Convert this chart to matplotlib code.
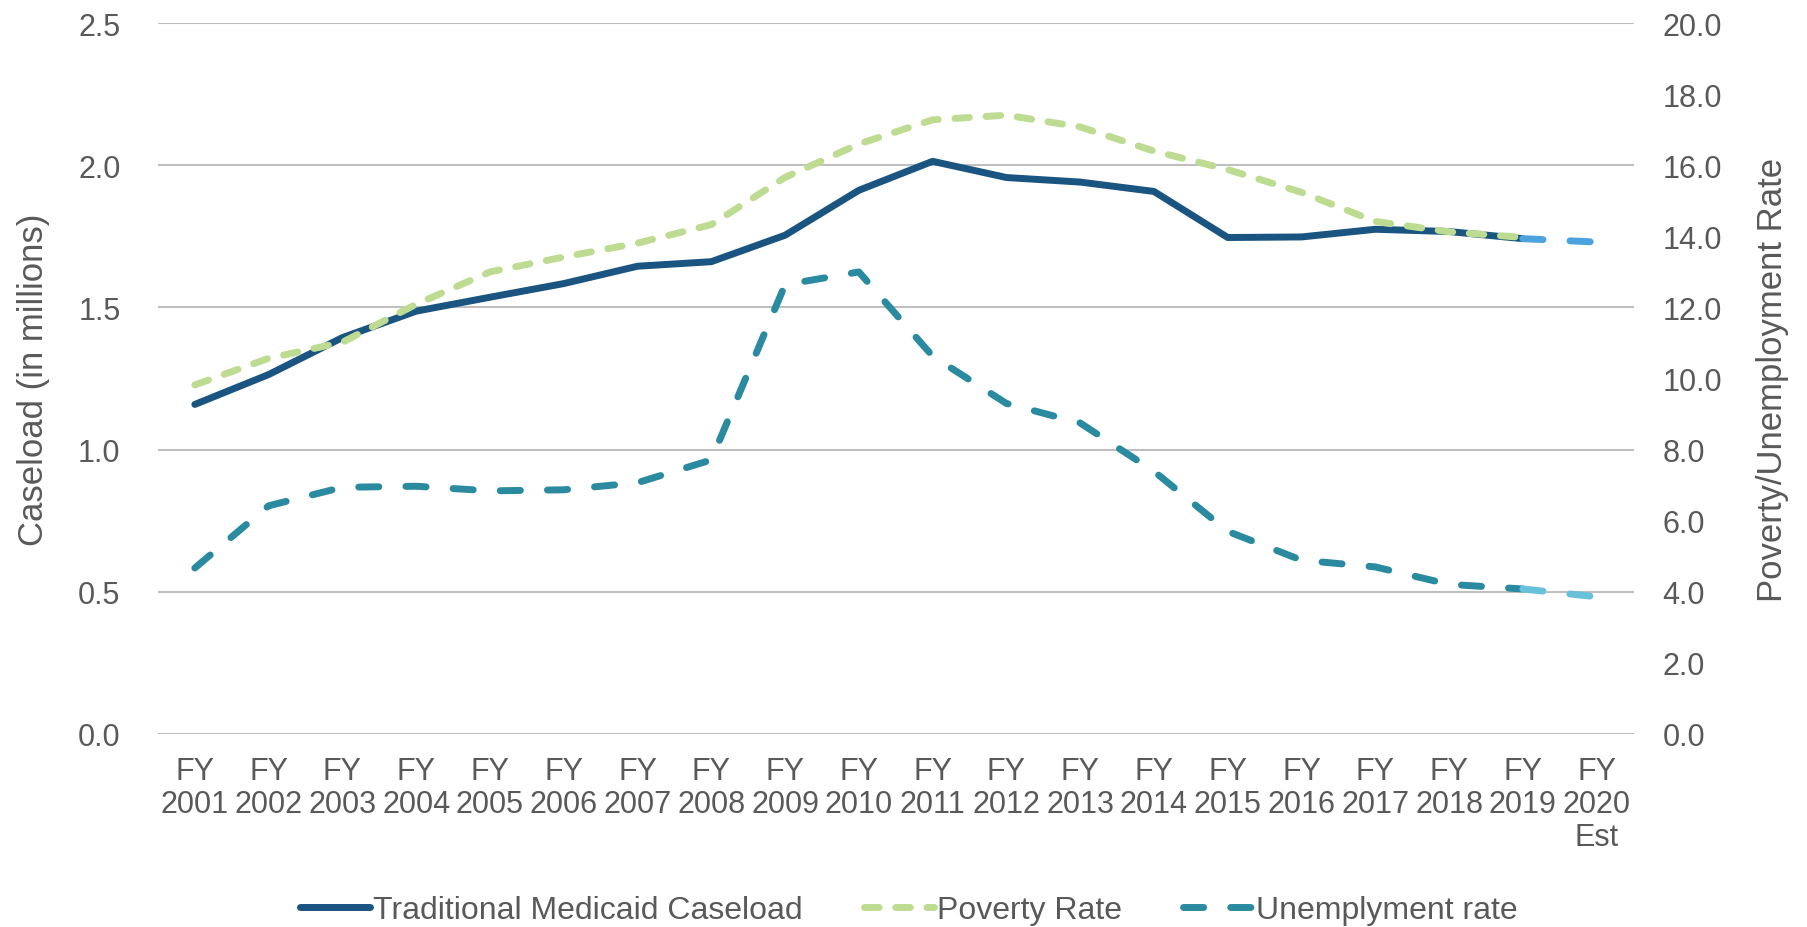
import matplotlib.pyplot as plt

plt.rcParams['font.family'] = ['Liberation Sans', 'DejaVu Sans']

# Data
years = ['FY\n2001', 'FY\n2002', 'FY\n2003', 'FY\n2004', 'FY\n2005', 'FY\n2006', 'FY\n2007',
         'FY\n2008', 'FY\n2009', 'FY\n2010', 'FY\n2011', 'FY\n2012', 'FY\n2013', 'FY\n2014',
         'FY\n2015', 'FY\n2016', 'FY\n2017', 'FY\n2018', 'FY\n2019', 'FY\n2020\nEst']
caseload = [1.159, 1.264, 1.394, 1.487, 1.536, 1.584, 1.645, 1.661, 1.754, 1.912,
            2.014, 1.957, 1.941, 1.908, 1.746, 1.748, 1.775, 1.767, 1.742, 1.730]
poverty = [9.82, 10.57, 11.02, 12.09, 13.0, 13.42, 13.81, 14.33, 15.66, 16.60,
           17.28, 17.41, 17.08, 16.40, 15.88, 15.24, 14.42, 14.13, 13.97]
unemployment = [4.67, 6.42, 6.94, 6.97, 6.84, 6.87, 7.07, 7.71, 12.64, 13.0,
                10.63, 9.30, 8.75, 7.39, 5.70, 4.89, 4.70, 4.21, 4.08, 3.86]

TEXT = '#595959'
CASE_COL = '#1A5480'
CASE_EST = '#4AA3DF'
POV_COL = '#BDDC92'
UNEMP_COL = '#2A8AA0'
UNEMP_EST = '#67C1DA'
FS = 22
LW = 5

x = list(range(len(years)))
n_act = len(years) - 1   # last point is the estimate

fig = plt.figure(figsize=(18.07, 9.28), dpi=100)
ax = fig.add_axes([0.0874, 0.208, 0.8166, 0.766])
ax2 = ax.twinx()

# Caseload on left axis
line_case, = ax.plot(x[:n_act], caseload[:n_act], color=CASE_COL, lw=LW,
                     solid_capstyle='round', solid_joinstyle='round',
                     label='Traditional Medicaid Caseload', zorder=3)
ax.plot(x[n_act - 1:], caseload[n_act - 1:], color=CASE_EST, lw=LW,
        dashes=(2.9, 3.9), dash_capstyle='round', zorder=3)

# Rates on right axis
line_pov, = ax2.plot(x[:len(poverty)], poverty, color=POV_COL, lw=LW,
                     dashes=(2.1, 2.4), dash_capstyle='round', label='Poverty Rate')
line_un, = ax2.plot(x[:n_act], unemployment[:n_act], color=UNEMP_COL, lw=LW,
                    dashes=(2.9, 3.9), dash_capstyle='round', label='Unemplyment rate')
ax2.plot(x[n_act - 1:], unemployment[n_act - 1:], color=UNEMP_EST, lw=LW,
         dashes=(2.9, 3.9), dash_capstyle='round')

# Axes setup
ax.set_xlim(-0.5, len(years) - 0.5)
ax.set_ylim(0, 2.5)
ax.set_yticks([0, 0.5, 1.0, 1.5, 2.0, 2.5])
ax.set_yticklabels(['%.1f' % v for v in [0, 0.5, 1.0, 1.5, 2.0, 2.5]])
ax2.set_ylim(0, 20)
ax2.set_yticks(range(0, 21, 2))
ax2.set_yticklabels(['%.1f' % v for v in range(0, 21, 2)])

ax.set_xticks(x)
ax.set_xticklabels(years, linespacing=1.13)

ax.yaxis.grid(True, color='#BFBFBF', lw=1.5)
ax.set_axisbelow(True)

for a in (ax, ax2):
    for s in a.spines.values():
        s.set_visible(False)
    a.tick_params(length=0, labelsize=FS, labelcolor=TEXT)
ax.tick_params(axis='y', pad=27)
ax.tick_params(axis='x', pad=16)
ax2.tick_params(axis='y', pad=21)

ax.set_ylabel('Caseload (in millions)', fontsize=25, color=TEXT, labelpad=20)
ax2.set_ylabel('Poverty/Unemployment Rate', fontsize=25, color=TEXT, labelpad=24)

fig.legend(handles=[line_case, line_pov, line_un], loc='center',
           bbox_to_anchor=(0.503, 0.018), ncol=3, frameon=False, fontsize=23,
           labelcolor=TEXT, handlelength=2.2, handletextpad=0.1, columnspacing=1.9)

fig.savefig('out.png', dpi=100)
